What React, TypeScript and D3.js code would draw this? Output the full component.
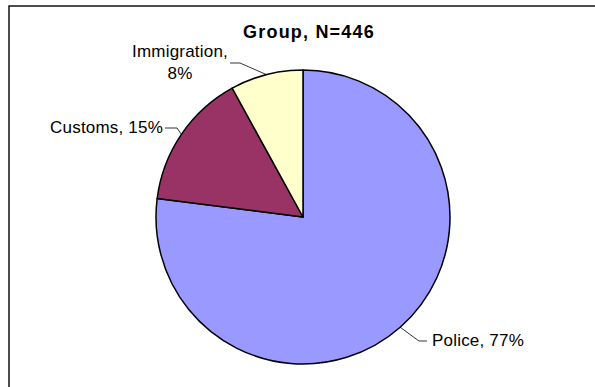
import React from "react";
import * as d3 from "d3";

const categories = ["Police", "Customs", "Immigration"];
const percents = [77, 15, 8];
const colors = ["#9999FF", "#993366", "#FFFFCC"];
const title = "Group, N=446";

const W = 595;
const H = 387;
const CX = 303;
const CY = 217;
const R = 147;

// label layout (positions of annotation text and leader elbows)
const labelLayout: Record<string, { elbow: [number, number]; lineEnd: [number, number]; tx: number; ty: number; anchor: string; lines: (p: number, c: string) => string[] }> = {
  Police: { elbow: [419, 341], lineEnd: [427, 341], tx: 432, ty: 346, anchor: "start", lines: (p, c) => [`${c}, ${p}%`] },
  Customs: { elbow: [177, 128], lineEnd: [165, 128], tx: 163, ty: 133, anchor: "end", lines: (p, c) => [`${c}, ${p}%`] },
  Immigration: { elbow: [240, 63], lineEnd: [230, 63], tx: 180, ty: 57, anchor: "middle", lines: (p, c) => [`${c},`, `${p}%`] },
};

export default function App() {
  const data = categories.map((c, i) => ({ c, v: percents[i], color: colors[i] }));
  const pie = d3.pie<any>().value((d) => d.v).sort(null).startAngle(0).endAngle(2 * Math.PI);
  const arcs = pie(data);
  const arc = d3.arc<any>().innerRadius(0).outerRadius(R);

  return (
    <svg
      width={W}
      height={H}
      style={{ position: "absolute", left: 0, top: 0, background: "#fff" }}
      fontFamily="'Liberation Sans', Arial, sans-serif"
    >
      <rect x={9} y={6} width={700} height={500} fill="#fff" stroke="#000" strokeWidth={1.4} />
      <text x={309} y={38} textAnchor="middle" fontSize={18} fontWeight="bold" letterSpacing={1.2}>
        {title}
      </text>
      <g transform={`translate(${CX},${CY})`}>
        {arcs.map((a, i) => (
          <path key={i} d={arc(a) as string} fill={a.data.color} stroke="#000" strokeWidth={1.5} strokeLinejoin="round" />
        ))}
      </g>
      {arcs.map((a, i) => {
        const mid = (a.startAngle + a.endAngle) / 2;
        const px = CX + Math.sin(mid) * R;
        const py = CY - Math.cos(mid) * R;
        const L = labelLayout[a.data.c];
        const lines = L.lines(a.data.v, a.data.c);
        return (
          <g key={"l" + i}>
            <polyline
              points={`${px},${py} ${L.elbow[0]},${L.elbow[1]} ${L.lineEnd[0]},${L.lineEnd[1]}`}
              fill="none"
              stroke="#000"
              strokeWidth={0.8}
            />
            <text x={L.tx} y={L.ty} textAnchor={L.anchor as any} fontSize={17} letterSpacing={0.2} fill="#000">
              {lines.map((t, j) => (
                <tspan key={j} x={L.tx} dy={j === 0 ? 0 : 22}>
                  {t}
                </tspan>
              ))}
            </text>
          </g>
        );
      })}
    </svg>
  );
}
